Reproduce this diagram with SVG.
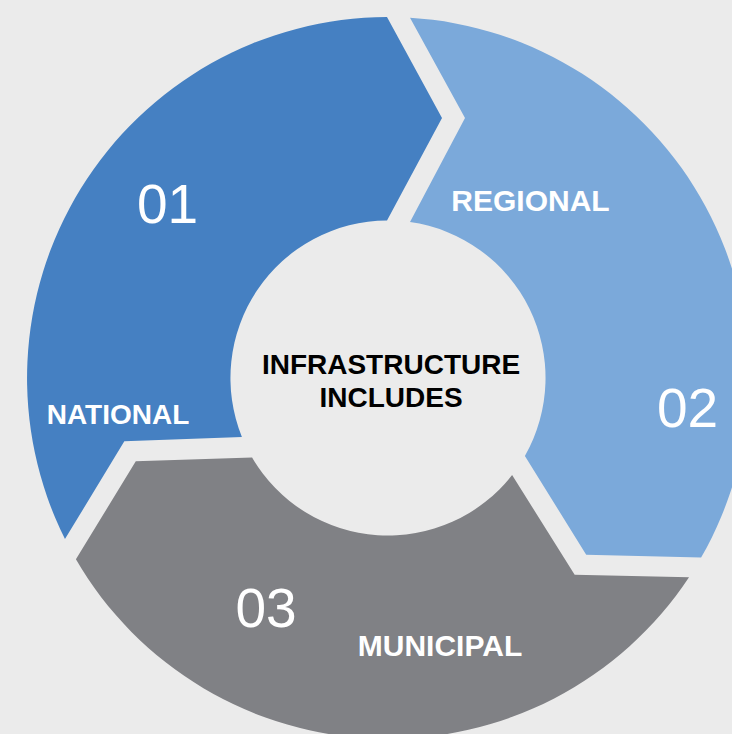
<svg xmlns="http://www.w3.org/2000/svg" xmlns:xlink="http://www.w3.org/1999/xlink" width="732" height="734" viewBox="0 0 732 734">
  <style>
    .num { font-family: "Liberation Sans", Arial, sans-serif; font-size: 55px; fill: #ffffff; text-anchor: middle; }
    .lbl { font-family: "Liberation Sans", Arial, sans-serif; font-weight: bold; fill: #ffffff; text-anchor: middle; }
    .ctr { font-family: "Liberation Sans", Arial, sans-serif; font-weight: bold; font-size: 28px; fill: #000000; text-anchor: middle; }
  </style>
  <defs>
    <path id="seg" d="M 410 17.7 A 361 361 0 0 1 701.1 557.6 L 586.2 554.8 L 524.9 455.9 A 157.5 157.5 0 0 0 410 222 L 465 118 Z"/>
  </defs>
  <rect x="0" y="0" width="732" height="734" fill="#ebebeb"/>
  <g id="segment-01">
    <use xlink:href="#seg" href="#seg" transform="rotate(-120 388 378)" fill="#4580c2"/>
    <text class="num" x="167.5" y="222.5">01</text>
    <text class="lbl" x="118" y="424" font-size="28">NATIONAL</text>
  </g>
  <g id="segment-02">
    <use xlink:href="#seg" href="#seg" fill="#7ba9da"/>
    <text class="num" x="687.5" y="426.5">02</text>
    <text class="lbl" x="530.5" y="211" font-size="30">REGIONAL</text>
  </g>
  <g id="segment-03">
    <use xlink:href="#seg" href="#seg" transform="rotate(120 388 378)" fill="#808185"/>
    <text class="num" x="266" y="626.5">03</text>
    <text class="lbl" x="440" y="656" font-size="30">MUNICIPAL</text>
  </g>
  <g id="center">
    <text class="ctr" x="391" y="373.5">INFRASTRUCTURE</text>
    <text class="ctr" x="391" y="407">INCLUDES</text>
  </g>
</svg>
